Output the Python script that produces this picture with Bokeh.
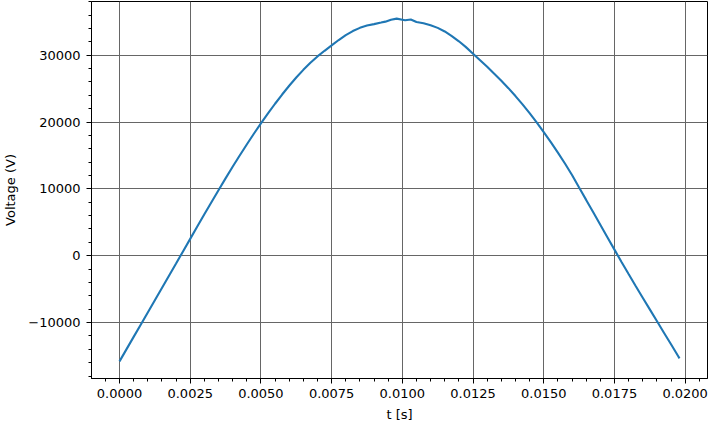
from bokeh.plotting import figure
from bokeh.models import Range1d, FixedTicker
from bokeh.embed import file_html
from bokeh.resources import INLINE

# time samples (s) and voltage readings (V)
t = [0.0, 0.00025, 0.0005, 0.00075, 0.001, 0.00125, 0.0015, 0.00175, 0.002, 0.00225,
     0.0025, 0.00275, 0.003, 0.00325, 0.0035, 0.00375, 0.004, 0.00425, 0.0045, 0.00475,
     0.005, 0.00525, 0.0055, 0.00575, 0.006, 0.00625, 0.0065, 0.00675, 0.007, 0.00725,
     0.0075, 0.00775, 0.008, 0.00825, 0.0085, 0.00875, 0.009, 0.00925, 0.0094, 0.0096,
     0.0098, 0.01, 0.0101, 0.0103, 0.0105, 0.01075, 0.011, 0.01125, 0.0115, 0.01175,
     0.012, 0.01225, 0.0125, 0.01275, 0.013, 0.01325, 0.0135, 0.01375, 0.014, 0.01425,
     0.0145, 0.01475, 0.015, 0.01525, 0.0155, 0.01575, 0.016, 0.01625, 0.0165, 0.01675,
     0.017, 0.01725, 0.0175, 0.01775, 0.018, 0.01825, 0.0185, 0.01875, 0.019, 0.01925,
     0.0195, 0.01975, 0.0198]
voltage = [-15800, -13970, -12140, -10310, -8480, -6650, -4820, -2990, -1160, 680,
           2520, 4360, 6190, 8010, 9800, 11570, 13300, 14990, 16640, 18240,
           19790, 21290, 22730, 24110, 25420, 26650, 27800, 28850, 29810, 30650,
           31450, 32260, 32990, 33600, 34080, 34420, 34640, 34870, 35010, 35300,
           35460, 35300, 35220, 35320, 34950, 34780, 34480, 34080, 33540, 32850,
           32070, 31200, 30220, 29250, 28250, 27220, 26180, 25060, 23880, 22640,
           21330, 19950, 18500, 17000, 15430, 13790, 12080, 10200, 8350, 6490,
           4630, 2770, 910, -930, -2740, -4520, -6280, -8030, -9770, -11510,
           -13250, -14990, -15350]

x_ticks = [0.0, 0.0025, 0.005, 0.0075, 0.01, 0.0125, 0.015, 0.0175, 0.02]
x_tick_labels = ["0.0000", "0.0025", "0.0050", "0.0075", "0.0100", "0.0125", "0.0150", "0.0175", "0.0200"]
y_ticks = [-10000, 0, 10000, 20000, 30000]
y_tick_labels = ["\u221210000", "0", "10000", "20000", "30000"]
x_minor = [i * 0.0005 for i in range(-2, 43)]
y_minor = [i * 2000 for i in range(-10, 20)]

tmin, tmax = min(t), max(t)
vmin, vmax = min(voltage), max(voltage)
xm = (tmax - tmin) * 0.05
ym = (vmax - vmin) * 0.05

p = figure(width=709, height=424, output_backend="svg", toolbar_location=None,
           x_range=Range1d(tmin - xm, tmax + xm), y_range=Range1d(vmin - ym, vmax + ym),
           min_border_left=87, min_border_right=2, min_border_top=1, min_border_bottom=45)

p.line(t, voltage, line_color="#1f77b4", line_width=2.1)

p.xaxis.ticker = FixedTicker(ticks=x_ticks, minor_ticks=x_minor)
p.yaxis.ticker = FixedTicker(ticks=y_ticks, minor_ticks=y_minor)
p.xaxis.major_label_overrides = {k: v for k, v in zip(x_ticks, x_tick_labels)}
p.yaxis.major_label_overrides = {k: v for k, v in zip(y_ticks, y_tick_labels)}

p.xaxis.axis_label = "t [s]"
p.yaxis.axis_label = "Voltage (V)"

for ax in (p.xaxis[0], p.yaxis[0]):
    ax.axis_line_color = "black"
    ax.axis_line_width = 1
    ax.major_tick_line_color = "black"
    ax.minor_tick_line_color = "black"
    ax.major_tick_out = 5
    ax.major_tick_in = 0
    ax.minor_tick_out = 3
    ax.minor_tick_in = 0
    ax.major_label_text_font = "DejaVu Sans"
    ax.major_label_text_font_size = "13px"
    ax.major_label_text_color = "black"
    ax.axis_label_text_font = "DejaVu Sans"
    ax.axis_label_text_font_size = "13px"
    ax.axis_label_text_font_style = "normal"
    ax.axis_label_text_color = "black"

p.xaxis.major_label_standoff = 5
p.yaxis.major_label_standoff = 6
p.xaxis.axis_label_standoff = 6
p.yaxis.axis_label_standoff = 7

p.xgrid.ticker = FixedTicker(ticks=x_ticks)
p.ygrid.ticker = FixedTicker(ticks=y_ticks)
for g in (p.xgrid[0], p.ygrid[0]):
    g.grid_line_color = "#666666"
    g.grid_line_width = 1
    g.grid_line_alpha = 1

p.outline_line_color = "black"
p.outline_line_width = 1
p.outline_line_alpha = 1
p.background_fill_color = "white"
p.border_fill_color = "white"

open("out.html", "w").write(file_html(p, INLINE))
